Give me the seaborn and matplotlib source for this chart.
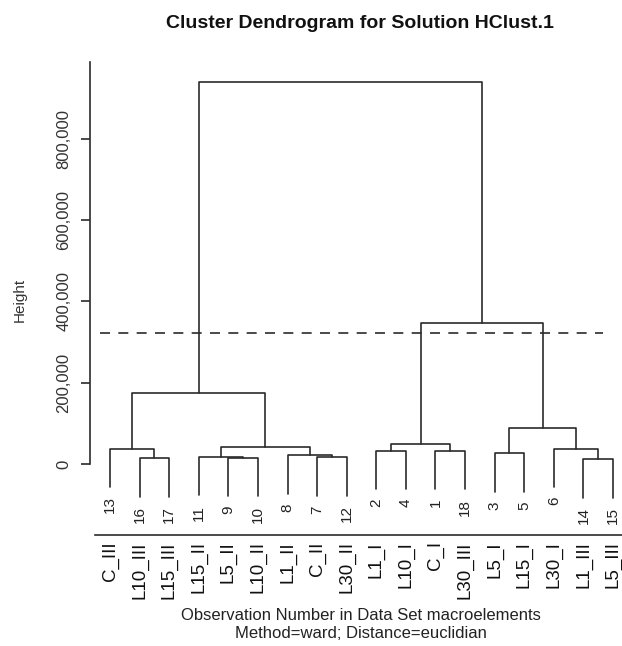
import numpy as np
import pandas as pd
import matplotlib
matplotlib.use("Agg")
import matplotlib.pyplot as plt
import seaborn as sns

# leaf order as drawn, left to right
obs_numbers = [13, 16, 17, 11, 9, 10, 8, 7, 12, 2, 4, 1, 18, 3, 5, 6, 14, 15]
obs_names = ["C_III", "L10_III", "L15_III", "L15_II", "L5_II", "L10_II", "L1_II",
             "C_II", "L30_II", "L1_I", "L10_I", "C_I", "L30_III", "L5_I", "L15_I",
             "L30_I", "L1_III", "L5_III"]

# hclust style merge table: negative = observation, positive = earlier merge (1-based)
merge_a = [-14, -16, -9, -7, -11, -8, -3, -1, -2, -6, -13, 5, 9, 7, 11, 13, 15]
merge_b = [-15, -17, -10, -12, 3, 4, -5, -18, -4, 1, 2, 6, 8, 10, 12, 14, 16]
merge_height = [11500, 14000, 15500, 16400, 17200, 21400, 26200, 32000, 32500,
                37700, 38000, 42600, 48400, 87800, 174000, 346000, 940000]

cut_height = 322000
hang = 0.1
y_ticks = [0, 200000, 400000, 600000, 800000]
y_tick_labels = ["0", "200,000", "400,000", "600,000", "800,000"]

line_color = "#2b2b2b"


def build_segments():
    """Turn the merge table into U shaped segments for plotting"""
    leaf_x = {obs: i + 1 for i, obs in enumerate(obs_numbers)}
    hang_len = hang * max(merge_height)
    node_x = {}
    rows = []
    leaf_bottom = {}
    for k, (a, b, h) in enumerate(zip(merge_a, merge_b, merge_height), start=1):
        pts = []
        for child in (a, b):
            if child < 0:
                cx = leaf_x[-child]
                cy = h - hang_len
                leaf_bottom[-child] = cy
            else:
                cx = node_x[child]
                cy = merge_height[child - 1]
            pts.append((cx, cy))
        node_x[k] = (pts[0][0] + pts[1][0]) / 2
        seg = [(pts[0][0], pts[0][1]), (pts[0][0], h), (pts[1][0], h), (pts[1][0], pts[1][1])]
        for x, y in seg:
            rows.append({"seg": k, "x": x, "y": y})
    return pd.DataFrame(rows), leaf_x, leaf_bottom


df, leaf_x, leaf_bottom = build_segments()

sns.set_style("white")
plt.rcParams["font.family"] = ["Liberation Sans", "DejaVu Sans"]

W, H = 622, 646
fig = plt.figure(figsize=(W / 100, H / 100), dpi=100)
ax = fig.add_axes([90 / W, 1 - 535 / H, 532 / W, 473 / H])

sns.lineplot(data=df, x="x", y="y", units="seg", estimator=None, sort=False,
             color=line_color, linewidth=1.2, ax=ax, legend=False)

px_per_leaf = 29.6
val_per_px = 2460
ax.set_xlim(1 - 20 / px_per_leaf, len(obs_numbers) + 9 / px_per_leaf)
ax.set_ylim(-71 * val_per_px, 402 * val_per_px)

# cut line
ax.axhline(cut_height, xmin=10 / 532, xmax=513 / 532, color=line_color,
           linewidth=1.2, linestyle=(0, (6, 5)))

# spines
for s in ["top", "right"]:
    ax.spines[s].set_visible(False)
ax.spines["left"].set_bounds(0, 402 * val_per_px)
ax.spines["bottom"].set_bounds(ax.get_xlim()[0] + 5 / px_per_leaf, ax.get_xlim()[1])
for s in ["left", "bottom"]:
    ax.spines[s].set_color(line_color)
    ax.spines[s].set_linewidth(1.2)

ax.set_xticks([])
ax.set_yticks(y_ticks)
ax.set_yticklabels(y_tick_labels, rotation=90, va="center", fontsize=12, color="#333333")
ax.tick_params(axis="y", length=6.5, width=1.2, color=line_color, pad=7, left=True)
ax.set_xlabel("")
ax.set_ylabel("")

# observation numbers under each leaf
for obs in obs_numbers:
    ax.annotate(str(obs), xy=(leaf_x[obs], leaf_bottom[obs]), xytext=(0, -7),
                textcoords="offset points", rotation=90, ha="center", va="top",
                fontsize=11, color="#222222")

# observation names below the separator line
for obs, name in zip(obs_numbers, obs_names):
    ax.annotate(name, xy=(leaf_x[obs], 0), xycoords=("data", "axes fraction"),
                xytext=(0, -4.5), textcoords="offset points", rotation=90,
                ha="center", va="top", fontsize=13.5, color="#111111",
                annotation_clip=False)

fig.text(360 / W, 1 - 24 / H, "Cluster Dendrogram for Solution HClust.1",
         ha="center", va="center", fontsize=14, fontweight="bold", color="#111111")
fig.text(20 / W, 1 - 300 / H, "Height", rotation=90, ha="center", va="center",
         fontsize=11, color="#333333")
fig.text(361 / W, 1 - 615 / H, "Observation Number in Data Set macroelements",
         ha="center", va="center", fontsize=12, color="#222222")
fig.text(361 / W, 1 - 634 / H, "Method=ward; Distance=euclidian",
         ha="center", va="center", fontsize=12, color="#222222")

fig.savefig("out.png", dpi=100, facecolor="white")
plt.close(fig)
